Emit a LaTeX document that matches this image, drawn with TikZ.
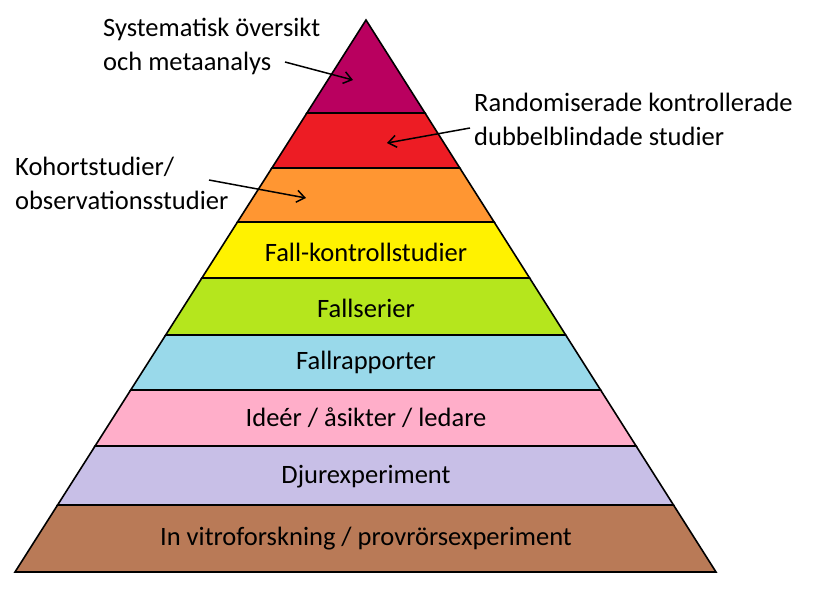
\documentclass[tikz,border=0pt]{standalone}
\usepackage{fontspec}
\setmainfont{Carlito}
\usetikzlibrary{arrows.meta}
\begin{document}
\begin{tikzpicture}[x=1pt,y=-1pt,
  layer/.style={draw=black,line width=1.6pt,line join=miter},
  lbl/.style={font=\fontsize{26.5}{30}\selectfont},
  side/.style={font=\fontsize{26.5}{34}\selectfont,align=left,anchor=north west,inner sep=0pt},
  arr/.style={draw=black,line width=1.5pt,-{Straight Barb[length=8pt,width=12pt]}}]
\useasboundingbox (0,0) rectangle (815,600);
\path[layer,fill={rgb,255:red,185;green,0;blue,95}] (366,20) -- (425,113) -- (306.9,113) -- cycle;
\path[layer,fill={rgb,255:red,237;green,28;blue,36}] (306.9,113) -- (425,113) -- (459.8,168) -- (271.9,168) -- cycle;
\path[layer,fill={rgb,255:red,255;green,150;blue,50}] (271.9,168) -- (459.8,168) -- (494.1,222) -- (237.5,222) -- cycle;
\path[layer,fill={rgb,255:red,255;green,242;blue,0}] (237.5,222) -- (494.1,222) -- (529.6,278) -- (201.9,278) -- cycle;
\path[layer,fill={rgb,255:red,181;green,230;blue,29}] (201.9,278) -- (529.6,278) -- (565.7,335) -- (165.7,335) -- cycle;
\path[layer,fill={rgb,255:red,153;green,217;blue,234}] (165.7,335) -- (565.7,335) -- (600.6,390) -- (130.7,390) -- cycle;
\path[layer,fill={rgb,255:red,255;green,174;blue,201}] (130.7,390) -- (600.6,390) -- (636.1,446) -- (95.1,446) -- cycle;
\path[layer,fill={rgb,255:red,200;green,191;blue,231}] (95.1,446) -- (636.1,446) -- (673.5,505) -- (57.6,505) -- cycle;
\path[layer,fill={rgb,255:red,185;green,122;blue,87}] (57.6,505) -- (673.5,505) -- (716,572) -- (15,572) -- cycle;
\node[lbl] (l4) at (366,252) {Fall-kontrollstudier};
\node[lbl] (l5) at (366,308) {Fallserier};
\node[lbl] (l6) at (366,362) {Fallrapporter};
\node[lbl] (l7) at (366,418) {Ideér / åsikter / ledare};
\node[lbl] (l8) at (366,477) {Djurexperiment};
\node[lbl] (l9) at (366,539) {In vitroforskning / provrörsexperiment};
\node[side] (t1) at (103,18) {Systematisk översikt\\och metaanalys};
\node[side] (t2) at (474,93) {Randomiserade kontrollerade\\dubbelblindade studier};
\node[side] (t3) at (15,157) {Kohortstudier/\\observationsstudier};
\coordinate (a1) at (353,80);
\coordinate (a2) at (387,143);
\coordinate (a3) at (306,198);
\draw[arr] (285,62) -- (a1);
\draw[arr] (470,128) -- (a2);
\draw[arr] (209,180) -- (a3);
\end{tikzpicture}
\end{document}
